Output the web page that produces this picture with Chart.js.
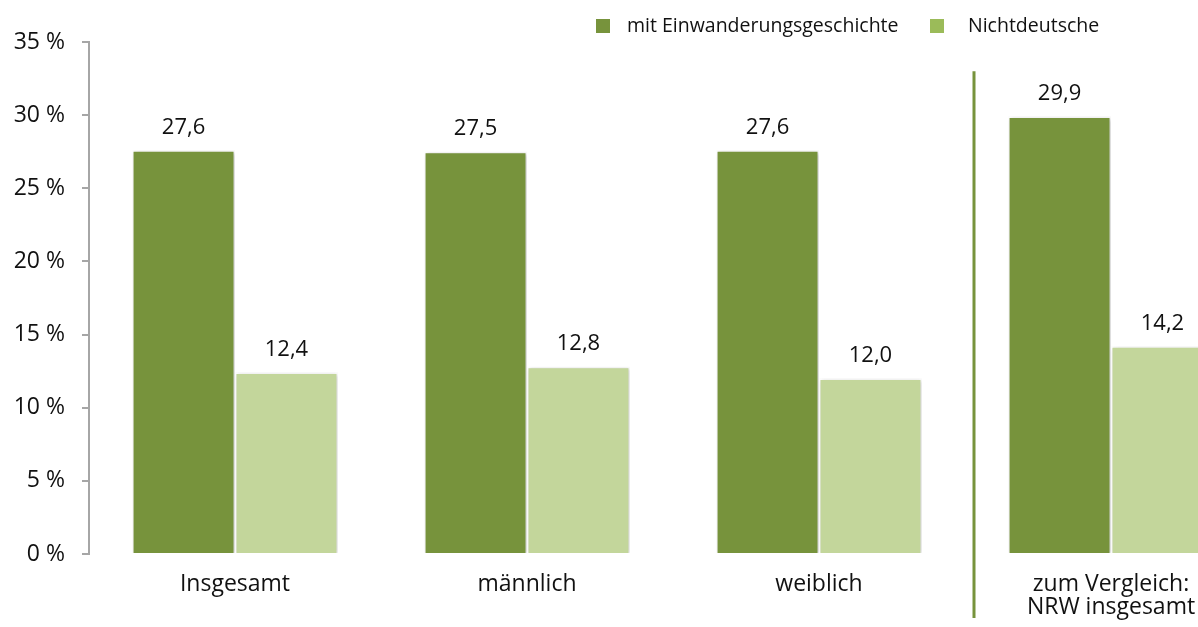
<!DOCTYPE html>
<html lang="de">
<head>
<meta charset="utf-8">
<title>Einwanderungsgeschichte</title>
<script src="https://cdn.jsdelivr.net/npm/chart.js@4.4.1/dist/chart.umd.min.js"></script>
<style>
  html, body { margin: 0; padding: 0; background: #fff; }
  #wrap { position: relative; width: 1198px; height: 627px; overflow: hidden; }
  #wrap canvas { position: absolute; left: 0; top: 0; }
  .item { position: absolute; top: 11px; font-family: "Open Sans", sans-serif; font-size: 19.5px; color: #111; white-space: nowrap; }
  .item span.box { display: inline-block; width: 14px; height: 14px; vertical-align: middle; position: relative; top: -1px; }
  .item span.txt { position: absolute; top: 0; }
</style>
</head>
<body>
<div id="wrap">
  <canvas id="chart" width="1270" height="627"></canvas>
  <div class="item" style="left:596px"><span class="box" style="background:#77933c"></span><span class="txt" style="left:31px">mit Einwanderungsgeschichte</span></div>
  <div class="item" style="left:930px"><span class="box" style="background:#9bbb59"></span><span class="txt" style="left:38px">Nichtdeutsche</span></div>
</div>
<script>
const categories = ['Insgesamt', 'männlich', 'weiblich', ['zum Vergleich:', 'NRW insgesamt']];
const einwanderung = [27.6, 27.5, 27.6, 29.9];
const nichtdeutsche = [12.4, 12.8, 12.0, 14.2];
const yMax = 35;
const yStep = 5;

const FONT = '"Open Sans", sans-serif';

// labels above bars, german decimal comma
const valueLabels = {
  id: 'valueLabels',
  beforeDatasetsDraw(chart) {
    const ctx = chart.ctx;
    ctx.save();
    ctx.shadowColor = 'rgba(0,0,0,0.22)';
    ctx.shadowBlur = 4;
    ctx.shadowOffsetX = 1;
    ctx.shadowOffsetY = 1;
  },
  afterDatasetsDraw(chart) {
    const ctx = chart.ctx;
    ctx.restore();
    ctx.save();
    ctx.font = '22px ' + FONT;
    ctx.fillStyle = '#111';
    ctx.textAlign = 'center';
    ctx.textBaseline = 'middle';
    chart.data.datasets.forEach((ds, i) => {
      chart.getDatasetMeta(i).data.forEach((bar, j) => {
        ctx.fillText(ds.data[j].toFixed(1).replace('.', ','), bar.x, bar.y - 23);
      });
    });
    ctx.restore();
  }
};

// green line separating the NRW comparison
const separator = {
  id: 'separator',
  afterDraw(chart) {
    const x = chart.scales.x.getPixelForValue(2.5) + 9;
    const y = chart.scales.y;
    const ctx = chart.ctx;
    ctx.save();
    ctx.strokeStyle = '#77933c';
    ctx.lineWidth = 3;
    ctx.beginPath();
    ctx.moveTo(x, y.getPixelForValue(33));
    ctx.lineTo(x, chart.chartArea.bottom + 64);
    ctx.stroke();
    ctx.restore();
  }
};

new Chart(document.getElementById('chart'), {
  type: 'bar',
  data: {
    labels: categories,
    datasets: [
      {
        label: 'mit Einwanderungsgeschichte',
        data: einwanderung,
        backgroundColor: '#77933c',
        borderColor: '#ffffff',
        borderWidth: 1.5,
        categoryPercentage: 0.705,
        barPercentage: 1
      },
      {
        label: 'Nichtdeutsche',
        data: nichtdeutsche,
        backgroundColor: '#c3d69b',
        borderColor: '#ffffff',
        borderWidth: 1.5,
        categoryPercentage: 0.705,
        barPercentage: 1
      }
    ]
  },
  options: {
    responsive: false,
    animation: false,
    layout: { padding: { top: 42, right: 13, bottom: 0, left: 0 } },
    plugins: {
      legend: { display: false },
      tooltip: { enabled: false }
    },
    scales: {
      x: {
        afterFit(scale) { scale.height = 73; },
        grid: { display: false, drawTicks: false },
        border: { display: false },
        ticks: {
          color: '#111',
          padding: 19,
          maxRotation: 0,
          autoSkip: false,
          font: { family: FONT, size: 23, lineHeight: 1.0 }
        }
      },
      y: {
        min: 0,
        max: yMax,
        afterFit(scale) { scale.width = 89; },
        grid: { drawOnChartArea: false, drawTicks: true, tickLength: 7, color: '#a6a6a6', lineWidth: 2 },
        border: { display: true, color: '#a6a6a6', width: 2 },
        ticks: {
          stepSize: yStep,
          color: '#111',
          padding: 17,
          font: { family: FONT, size: 23 },
          callback: v => v + ' %'
        }
      }
    }
  },
  plugins: [valueLabels, separator]
});
</script>
</body>
</html>
